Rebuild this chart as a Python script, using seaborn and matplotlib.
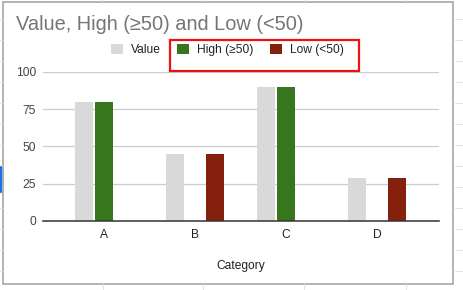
import matplotlib
matplotlib.use("Agg")
import matplotlib.pyplot as plt
from matplotlib.patches import Patch, Rectangle
from matplotlib.lines import Line2D
import seaborn as sns
import pandas as pd
import numpy as np

# ---- data ----
categories = ["A", "B", "C", "D"]
value = [80, 45, 90, 29]
high = [80, None, 90, None]
low = [None, 45, None, 29]
series_names = ["Value", "High (≥50)", "Low (<50)"]
colors = ["#d9d9d9", "#38761d", "#85200c"]
yticks = [0, 25, 50, 75, 100]
title = "Value, High (≥50) and Low (<50)"
xlabel = "Category"

rows = []
for name, vals in zip(series_names, [value, high, low]):
    for c, v in zip(categories, vals):
        if v is not None:
            rows.append({"Category": c, "Series": name, "Amount": v})
df = pd.DataFrame(rows)

sns.set_style("white")
plt.rcParams["font.family"] = ["Liberation Sans", "DejaVu Sans"]

W, H = 463, 290
fig = plt.figure(figsize=(W / 100, H / 100), dpi=100)
fig.patch.set_facecolor("white")

def px(x, y):
    return (x / W, 1 - y / H)

# spreadsheet background grid (outside chart)
grid_c = "#e3e3e3"
for k in range(14):
    y = 19.3 + 21 * k
    fig.add_artist(Line2D([455 / W, 1], [1 - y / H] * 2, color=grid_c, lw=0.8))
    fig.add_artist(Line2D([0, 2 / W], [1 - y / H] * 2, color=grid_c, lw=0.8))
for x in [103, 203, 304, 406]:
    fig.add_artist(Line2D([x / W] * 2, [0, 1 - 284 / H], color=grid_c, lw=0.8))
    fig.add_artist(Line2D([x / W] * 2, [1, 1 - 1 / H], color=grid_c, lw=0.8))
fig.add_artist(Line2D([0.6 / W] * 2, [1 - 167 / H, 1 - 192 / H], color="#1a73e8", lw=1.6))

# chart border
fig.add_artist(Rectangle(px(2.5, 283.5), (453.3 - 2.5) / W, (283.5 - 1.5) / H,
                         fill=False, edgecolor="#9e9e9e", lw=1.1))

left, right = 43, 438.7
top, bottom = 72.0, 220.7
ax = fig.add_axes([left / W, 1 - bottom / H, (right - left) / W, (bottom - top) / H])

sns.barplot(data=df, x="Category", y="Amount", hue="Series", order=categories,
            hue_order=series_names, palette=colors, width=0.66, gap=0.1,
            errorbar=None, legend=False, ax=ax, saturation=1, linewidth=0)

spacing = 91.0
ax.set_xlim(-(104 - left) / spacing, 3 + (right - 377) / spacing)
ax.set_ylim(0, 100)
ax.set_yticks(yticks)
ax.set_yticklabels([str(t) for t in yticks])
ax.grid(axis="y", color="#cccccc", lw=0.9)
ax.set_axisbelow(True)
for s in ["top", "right", "left"]:
    ax.spines[s].set_visible(False)
ax.spines["bottom"].set_color("#333333")
ax.spines["bottom"].set_linewidth(1.1)
ax.spines["bottom"].set_zorder(5)
ax.tick_params(axis="both", length=0, labelsize=8.64, colors="#444444")
ax.tick_params(axis="y", pad=5)
ax.tick_params(axis="x", pad=6, labelcolor="#222222")
ax.set_ylabel("")
ax.set_xlabel(xlabel, fontsize=8.64, color="#222222", labelpad=14)
ax.set_facecolor("none")

fig.text(16 / W, 1 - 25 / H, title, fontsize=14.4, color="#757575", ha="left", va="center")

handles = [Patch(facecolor=c, edgecolor="none", label=n) for n, c in zip(series_names, colors)]
fig.legend(handles=handles, ncol=3, loc="center", bbox_to_anchor=(227.5 / W, 1 - 50 / H),
           frameon=False, fontsize=8.64, handlelength=1.0, handleheight=1.0,
           handletextpad=0.67, columnspacing=1.35, labelcolor="#222222")

# red annotation box around legend
fig.add_artist(Rectangle(px(170, 70.7), (359 - 170) / W, (70.7 - 40) / H,
                         fill=False, edgecolor="#ee1111", lw=1.6))

fig.savefig("out.png", dpi=100, facecolor="white")
